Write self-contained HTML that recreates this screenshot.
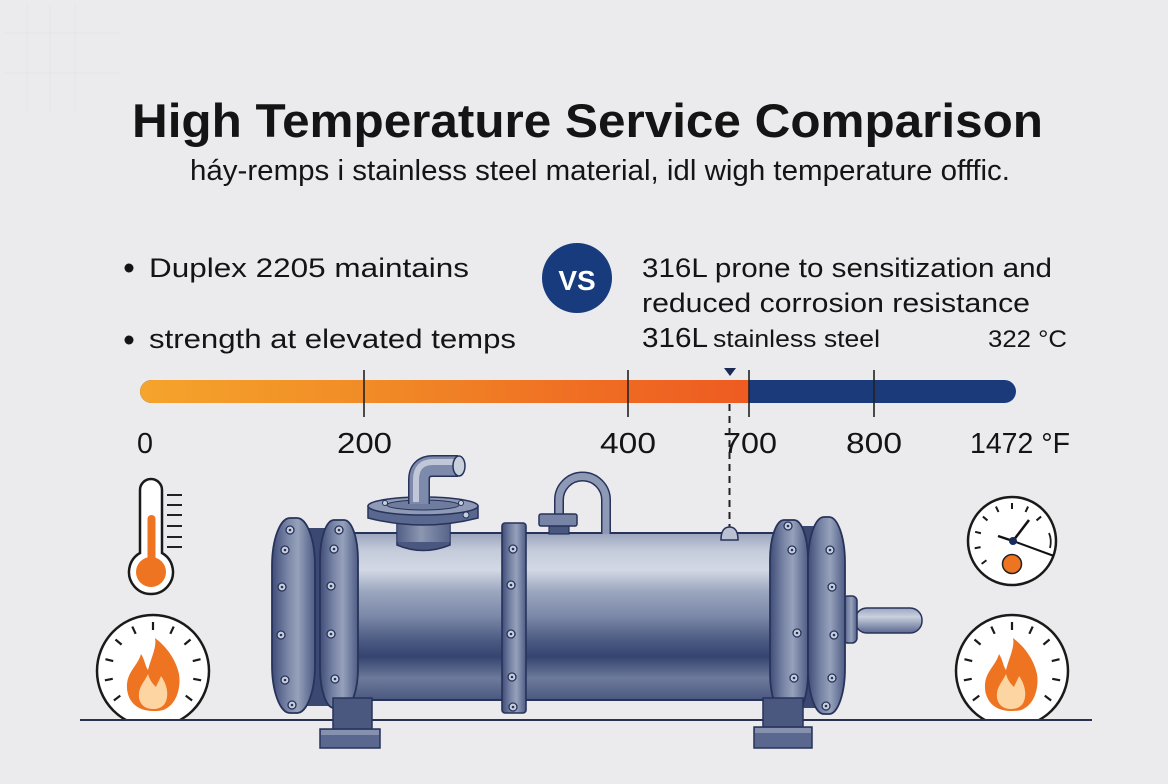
<!DOCTYPE html>
<html>
<head>
<meta charset="utf-8">
<style>
  html,body{margin:0;padding:0;background:#ebebed;}
  svg{display:block;}
  text{font-family:"Liberation Sans", Arial, sans-serif; fill:#141414;}
</style>
</head>
<body>
<svg width="1168" height="784" viewBox="0 0 1168 784" xmlns="http://www.w3.org/2000/svg">
  <defs>
    <linearGradient id="orange" gradientUnits="userSpaceOnUse" x1="140" y1="0" x2="749" y2="0">
      <stop offset="0" stop-color="#f5a42c"/>
      <stop offset="0.37" stop-color="#f18c26"/>
      <stop offset="0.75" stop-color="#ef6c23"/>
      <stop offset="1" stop-color="#ee5b22"/>
    </linearGradient>
    <linearGradient id="body" gradientUnits="userSpaceOnUse" x1="0" y1="533" x2="0" y2="700">
      <stop offset="0" stop-color="#9aa4bc"/>
      <stop offset="0.1" stop-color="#c3cad9"/>
      <stop offset="0.22" stop-color="#d3d9e4"/>
      <stop offset="0.35" stop-color="#9ba6bf"/>
      <stop offset="0.5" stop-color="#7b88a8"/>
      <stop offset="0.64" stop-color="#4c5b83"/>
      <stop offset="0.74" stop-color="#354470"/>
      <stop offset="0.87" stop-color="#6d7a9b"/>
      <stop offset="1" stop-color="#4a5880"/>
    </linearGradient>
    <linearGradient id="flange" x1="0" y1="0" x2="1" y2="0">
      <stop offset="0" stop-color="#3f4d78"/>
      <stop offset="0.35" stop-color="#7884a5"/>
      <stop offset="0.6" stop-color="#96a1bb"/>
      <stop offset="1" stop-color="#4e5c85"/>
    </linearGradient>
    <linearGradient id="pipe" x1="0" y1="0" x2="1" y2="0">
      <stop offset="0" stop-color="#56648a"/>
      <stop offset="0.45" stop-color="#b8c0d2"/>
      <stop offset="1" stop-color="#5f6d92"/>
    </linearGradient>
    <linearGradient id="shaft" x1="0" y1="0" x2="0" y2="1">
      <stop offset="0" stop-color="#9aa5bf"/>
      <stop offset="0.35" stop-color="#c9d0de"/>
      <stop offset="1" stop-color="#5a6890"/>
    </linearGradient>
    <clipPath id="ground"><rect x="0" y="0" width="1168" height="720"/></clipPath>
    <g id="flame">
      <path d="M0 0 C-18 0 -27 -12 -26 -27 C-25 -40 -15 -46 -12 -57 C-8 -51 -8 -45 -5 -41 C-2 -53 4 -64 2 -73 C14 -64 23 -51 26 -37 C28 -24 24 -9 14 -3 C10 0 5 0 0 0 Z" fill="#ee7422"/>
      <path d="M0 -2 C-10 -2 -15 -9 -14 -18 C-13 -26 -8 -30 -5 -37 C-3 -30 0 -27 3 -24 C5 -29 7 -32 8 -35 C13 -28 15 -20 14 -14 C13 -6 8 -2 0 -2 Z" fill="#fcd5a3"/>
    </g>
    <g id="bolt">
      <circle r="4" fill="#c9d0dd" stroke="#27335a" stroke-width="1.3"/>
      <circle r="1.3" fill="#27335a"/>
    </g>
  </defs>

  <rect width="1168" height="784" fill="#ebebed"/>
  <!-- faint grid top-left -->
  <g stroke="#e6e6e9" stroke-width="1">
    <line x1="5" y1="33" x2="120" y2="33"/>
    <line x1="5" y1="73" x2="120" y2="73"/>
    <line x1="27" y1="5" x2="27" y2="110"/>
    <line x1="50" y1="5" x2="50" y2="110"/>
    <line x1="75" y1="5" x2="75" y2="110"/>
  </g>

  <!-- Title -->
  <text x="132" y="137" font-size="47" font-weight="bold" textLength="911" lengthAdjust="spacingAndGlyphs" fill="#111">High Temperature Service Comparison</text>
  <text x="190" y="180" font-size="29" textLength="820" lengthAdjust="spacingAndGlyphs">háy-remps i stainless steel material, idl wigh temperature offfic.</text>

  <!-- Bullets left -->
  <circle cx="129" cy="268" r="4.5" fill="#141414"/>
  <text x="149" y="277" font-size="27" textLength="320" lengthAdjust="spacingAndGlyphs">Duplex 2205 maintains</text>
  <circle cx="129" cy="340" r="4.5" fill="#141414"/>
  <text x="149" y="348" font-size="27" textLength="367" lengthAdjust="spacingAndGlyphs">strength at elevated temps</text>

  <!-- VS -->
  <circle cx="577" cy="278" r="35" fill="#173b7c"/>
  <text x="577" y="290" font-size="28" font-weight="bold" text-anchor="middle" style="fill:#ffffff">VS</text>

  <!-- Right text -->
  <text x="642" y="277" font-size="27" textLength="410" lengthAdjust="spacingAndGlyphs">316L prone to sensitization and</text>
  <text x="642" y="312" font-size="27" textLength="388" lengthAdjust="spacingAndGlyphs">reduced corrosion resistance</text>
  <text x="642" y="347" font-size="28" textLength="66" lengthAdjust="spacingAndGlyphs">316L</text>
  <text x="713" y="347" font-size="24" textLength="167" lengthAdjust="spacingAndGlyphs">stainless steel</text>
  <text x="988" y="347" font-size="24" textLength="79" lengthAdjust="spacingAndGlyphs">322 °C</text>

  <!-- Temperature bar -->
  <rect x="140" y="380" width="876" height="23" rx="11.5" fill="#1b3a7a"/>
  <path d="M151.5 380 L749 380 L749 403 L151.5 403 A11.5 11.5 0 0 1 151.5 380 Z" fill="url(#orange)"/>
  <g stroke="#222" stroke-width="1.6">
    <line x1="364" y1="370" x2="364" y2="417"/>
    <line x1="628" y1="370" x2="628" y2="417"/>
    <line x1="749" y1="370" x2="749" y2="417"/>
    <line x1="874" y1="370" x2="874" y2="417"/>
  </g>
  <polygon points="724,368 736,368 730,376" fill="#1b2a55"/>

  <!-- Tick labels -->
  <text x="137" y="453" font-size="29" textLength="16" lengthAdjust="spacingAndGlyphs">0</text>
  <text x="337" y="453" font-size="29" textLength="55" lengthAdjust="spacingAndGlyphs">200</text>
  <text x="600" y="453" font-size="29" textLength="56" lengthAdjust="spacingAndGlyphs">400</text>
  <text x="723" y="453" font-size="29" textLength="54" lengthAdjust="spacingAndGlyphs">700</text>
  <text x="846" y="453" font-size="29" textLength="56" lengthAdjust="spacingAndGlyphs">800</text>
  <text x="970" y="453" font-size="29" textLength="100" lengthAdjust="spacingAndGlyphs">1472 °F</text>

  <!-- dashed pointer -->
  <line x1="729.5" y1="404" x2="729.5" y2="528" stroke="#222" stroke-width="2" stroke-dasharray="7 5"/>

  <!-- Ground line -->
  <line x1="80" y1="720" x2="1092" y2="720" stroke="#2a3050" stroke-width="2"/>

  <!-- shaft -->
  <rect x="855" y="608" width="67" height="25" rx="12" fill="url(#shaft)" stroke="#27335a" stroke-width="1.5"/>
  <rect x="843" y="596" width="14" height="47" rx="5" fill="url(#flange)" stroke="#27335a" stroke-width="1.5"/>

  <!-- neck between flanges (dark) -->
  <rect x="298" y="528" width="35" height="178" fill="#3a4872"/>
  <rect x="790" y="526" width="30" height="182" fill="#3a4872"/>

  <!-- body -->
  <rect x="330" y="533" width="455" height="167" fill="url(#body)" stroke="#27335a" stroke-width="2"/>

  <!-- top nozzle -->
  <path d="M397 522 L397 545 Q423 556 450 545 L450 522 Z" fill="#4a5880" stroke="#27335a" stroke-width="1.5"/>
  <rect x="397" y="522" width="53" height="20" fill="url(#pipe)" opacity="0.6"/>
  <path d="M368 506 L368 518 Q423 532 478 518 L478 506 Z" fill="#5a6890" stroke="#27335a" stroke-width="1.5"/>
  <ellipse cx="423" cy="506" rx="55" ry="9" fill="#8f9ab6" stroke="#27335a" stroke-width="1.5"/>
  <ellipse cx="423" cy="505" rx="36" ry="5" fill="#6f7c9e" stroke="#27335a" stroke-width="1"/>
  <circle cx="385" cy="503" r="2.5" fill="#c9d0dd" stroke="#27335a" stroke-width="1"/>
  <circle cx="461" cy="503" r="2.5" fill="#c9d0dd" stroke="#27335a" stroke-width="1"/>
  <circle cx="466" cy="515" r="3" fill="#c9d0dd" stroke="#27335a" stroke-width="1"/>
  <path d="M419 504 L419 480 Q419 466 433 466 L458 466" fill="none" stroke="#27335a" stroke-width="22"/>
  <path d="M419 504 L419 480 Q419 466 433 466 L458 466" fill="none" stroke="#7e8aab" stroke-width="19"/>
  <path d="M416 502 L416 480 Q416 462 433 462 L458 462" fill="none" stroke="#c0c8d8" stroke-width="6"/>
  <ellipse cx="459" cy="466" rx="6" ry="10" fill="#c9d0dd" stroke="#27335a" stroke-width="1.5"/>

  <!-- U handle -->
  <path d="M559 520 L559 500 A23.5 23.5 0 0 1 606 500 L606 534" fill="none" stroke="#27335a" stroke-width="10"/>
  <path d="M559 520 L559 500 A23.5 23.5 0 0 1 606 500 L606 534" fill="none" stroke="#8e99b5" stroke-width="7"/>
  <rect x="549" y="524" width="20" height="10" fill="#4a5880" stroke="#27335a" stroke-width="1.2"/>
  <rect x="539" y="514" width="38" height="12" rx="2" fill="#7884a5" stroke="#27335a" stroke-width="1.5"/>

  <!-- dome under pointer -->
  <path d="M721 540 Q721 527 729.5 527 Q738 527 738 540 Z" fill="#b9c1d3" stroke="#27335a" stroke-width="1.5"/>

  <!-- left flanges -->
  <rect x="272" y="518" width="43" height="195" rx="18" ry="48" fill="url(#flange)" stroke="#27335a" stroke-width="1.8"/>
  <rect x="320" y="520" width="38" height="188" rx="14" ry="40" fill="url(#flange)" stroke="#27335a" stroke-width="1.8"/>
  <!-- middle band -->
  <rect x="502" y="523" width="24" height="190" rx="3" fill="url(#flange)" stroke="#27335a" stroke-width="1.6"/>
  <!-- right flanges -->
  <rect x="770" y="520" width="38" height="193" rx="14" ry="40" fill="url(#flange)" stroke="#27335a" stroke-width="1.8"/>
  <rect x="808" y="517" width="37" height="197" rx="16" ry="46" fill="url(#flange)" stroke="#27335a" stroke-width="1.8"/>

  <!-- bolts -->
  <use href="#bolt" x="290" y="530"/>
  <use href="#bolt" x="285" y="550"/>
  <use href="#bolt" x="282" y="587"/>
  <use href="#bolt" x="281" y="635"/>
  <use href="#bolt" x="285" y="680"/>
  <use href="#bolt" x="292" y="705"/>
  <use href="#bolt" x="339" y="530"/>
  <use href="#bolt" x="334" y="549"/>
  <use href="#bolt" x="331" y="586"/>
  <use href="#bolt" x="331" y="634"/>
  <use href="#bolt" x="335" y="679"/>
  <use href="#bolt" x="513" y="549"/>
  <use href="#bolt" x="511" y="585"/>
  <use href="#bolt" x="511" y="634"/>
  <use href="#bolt" x="512" y="677"/>
  <use href="#bolt" x="513" y="707"/>
  <use href="#bolt" x="788" y="526"/>
  <use href="#bolt" x="792" y="550"/>
  <use href="#bolt" x="797" y="633"/>
  <use href="#bolt" x="794" y="678"/>
  <use href="#bolt" x="830" y="550"/>
  <use href="#bolt" x="832" y="587"/>
  <use href="#bolt" x="834" y="635"/>
  <use href="#bolt" x="832" y="678"/>
  <use href="#bolt" x="826" y="706"/>

  <!-- ===== Left icons ===== -->
  <path d="M140 490 A11 11 0 0 1 162 490 L162 553 A22 22 0 1 1 140 553 Z" fill="#ffffff" stroke="#1a1a1a" stroke-width="2.5"/>
  <rect x="147.5" y="515" width="8" height="48" rx="4" fill="#ee7422"/>
  <circle cx="151" cy="572" r="15" fill="#ee7422"/>
  <g stroke="#222" stroke-width="2">
    <line x1="167" y1="495" x2="182" y2="495"/>
    <line x1="167" y1="505" x2="182" y2="505"/>
    <line x1="167" y1="515" x2="182" y2="515"/>
    <line x1="167" y1="526" x2="182" y2="526"/>
    <line x1="167" y1="537" x2="182" y2="537"/>
    <line x1="167" y1="547" x2="182" y2="547"/>
  </g>
  <g clip-path="url(#ground)">
    <circle cx="153" cy="671" r="56" fill="#ffffff" stroke="#1a1a1a" stroke-width="2.5"/>
    <g stroke="#1a1a1a" stroke-width="2.2" transform="translate(153 671)">
      <line x1="0" y1="-41" x2="0" y2="-49" transform="rotate(0)"/>
      <line x1="0" y1="-41" x2="0" y2="-49" transform="rotate(25)"/>
      <line x1="0" y1="-41" x2="0" y2="-49" transform="rotate(-25)"/>
      <line x1="0" y1="-41" x2="0" y2="-49" transform="rotate(50)"/>
      <line x1="0" y1="-41" x2="0" y2="-49" transform="rotate(-50)"/>
      <line x1="0" y1="-41" x2="0" y2="-49" transform="rotate(76)"/>
      <line x1="0" y1="-41" x2="0" y2="-49" transform="rotate(-76)"/>
      <line x1="0" y1="-41" x2="0" y2="-49" transform="rotate(101)"/>
      <line x1="0" y1="-41" x2="0" y2="-49" transform="rotate(-101)"/>
      <line x1="0" y1="-41" x2="0" y2="-49" transform="rotate(127)"/>
      <line x1="0" y1="-41" x2="0" y2="-49" transform="rotate(-127)"/>
    </g>
    <use href="#flame" x="153" y="711"/>
  </g>

  <!-- ===== Right icons ===== -->
  <circle cx="1012" cy="541" r="44" fill="#ffffff" stroke="#1a1a1a" stroke-width="2.5"/>
  <g stroke="#1a1a1a" stroke-width="2" transform="translate(1012 541)">
    <line x1="0" y1="-32" x2="0" y2="-38"/>
    <line x1="0" y1="-32" x2="0" y2="-38" transform="rotate(25)"/>
    <line x1="0" y1="-32" x2="0" y2="-38" transform="rotate(-25)"/>
    <line x1="0" y1="-32" x2="0" y2="-38" transform="rotate(50)"/>
    <line x1="0" y1="-32" x2="0" y2="-38" transform="rotate(-50)"/>
    <line x1="0" y1="-32" x2="0" y2="-38" transform="rotate(-76)"/>
    <line x1="0" y1="-32" x2="0" y2="-38" transform="rotate(-101)"/>
    <line x1="0" y1="-32" x2="0" y2="-38" transform="rotate(-127)"/>
  </g>
  <path d="M1049 533 Q1052 540 1050 548" fill="none" stroke="#1a1a1a" stroke-width="1.8"/>
  <line x1="1013" y1="541" x2="1029" y2="520" stroke="#111" stroke-width="2.5"/>
  <line x1="1013" y1="541" x2="1054" y2="556" stroke="#111" stroke-width="2"/>
  <line x1="1013" y1="541" x2="998" y2="536" stroke="#111" stroke-width="2.5"/>
  <circle cx="1013" cy="541" r="4" fill="#1a2a5a"/>
  <circle cx="1012" cy="564" r="9.5" fill="#ee7422" stroke="#222" stroke-width="1.5"/>

  <g clip-path="url(#ground)">
    <circle cx="1012" cy="671" r="56" fill="#ffffff" stroke="#1a1a1a" stroke-width="2.5"/>
    <g stroke="#1a1a1a" stroke-width="2.2" transform="translate(1012 671)">
      <line x1="0" y1="-41" x2="0" y2="-49" transform="rotate(0)"/>
      <line x1="0" y1="-41" x2="0" y2="-49" transform="rotate(25)"/>
      <line x1="0" y1="-41" x2="0" y2="-49" transform="rotate(-25)"/>
      <line x1="0" y1="-41" x2="0" y2="-49" transform="rotate(50)"/>
      <line x1="0" y1="-41" x2="0" y2="-49" transform="rotate(-50)"/>
      <line x1="0" y1="-41" x2="0" y2="-49" transform="rotate(76)"/>
      <line x1="0" y1="-41" x2="0" y2="-49" transform="rotate(-76)"/>
      <line x1="0" y1="-41" x2="0" y2="-49" transform="rotate(101)"/>
      <line x1="0" y1="-41" x2="0" y2="-49" transform="rotate(-101)"/>
      <line x1="0" y1="-41" x2="0" y2="-49" transform="rotate(127)"/>
      <line x1="0" y1="-41" x2="0" y2="-49" transform="rotate(-127)"/>
    </g>
    <use href="#flame" x="1011" y="711"/>
  </g>
  <line x1="80" y1="720" x2="1092" y2="720" stroke="#2a3050" stroke-width="2"/>
  <!-- feet over ground line -->
  <rect x="333" y="698" width="39" height="32" fill="#4a5880" stroke="#27335a" stroke-width="1.5"/>
  <rect x="320" y="729" width="60" height="19" fill="#5a6890" stroke="#27335a" stroke-width="1.5"/>
  <rect x="321" y="730" width="58" height="5" fill="#8591af"/>
  <rect x="763" y="698" width="40" height="30" fill="#4a5880" stroke="#27335a" stroke-width="1.5"/>
  <rect x="754" y="727" width="58" height="21" fill="#5a6890" stroke="#27335a" stroke-width="1.5"/>
  <rect x="755" y="728" width="56" height="5" fill="#8591af"/>
</svg>
</body>
</html>
